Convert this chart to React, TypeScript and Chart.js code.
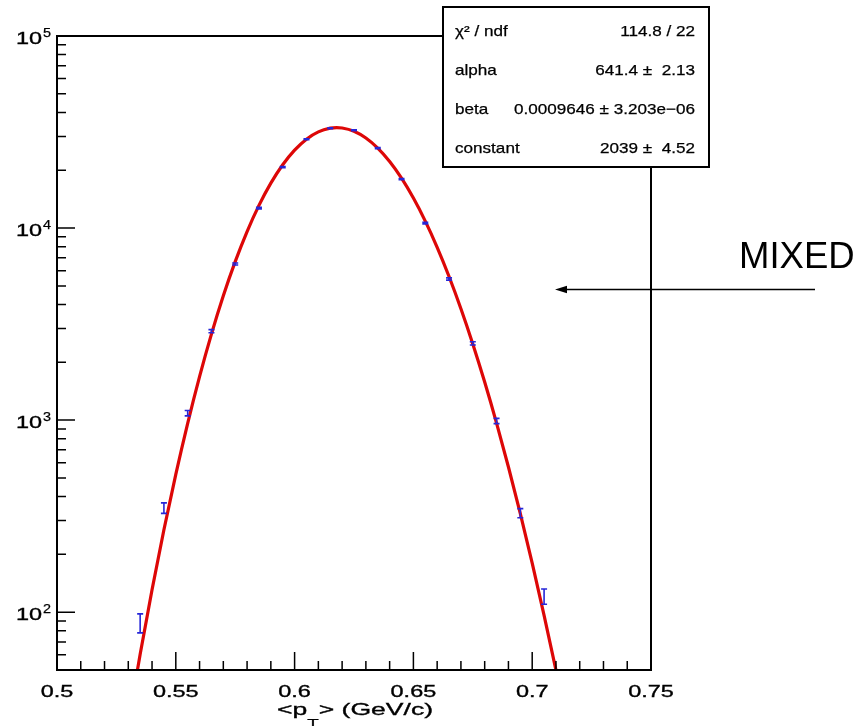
import React, { useEffect, useRef } from 'react';
import { Chart, registerables } from 'chart.js';

Chart.register(...registerables);

// ---- data ----
const binCenters = [0.535, 0.545, 0.555, 0.565, 0.575, 0.585, 0.595, 0.605, 0.615, 0.625, 0.635, 0.645, 0.655, 0.665, 0.675, 0.685, 0.695, 0.705];
const counts = [88, 349, 1087, 2904, 6500, 12700, 20750, 29000, 33100, 32300, 26060, 17990, 10620, 5430, 2510, 990, 328, 121];
const countErrors = [10, 22, 35, 55, 80, 113, 144, 170, 182, 180, 161, 134, 103, 74, 50, 31, 18, 11];

const fitX = [0.53, 0.535, 0.54, 0.545, 0.55, 0.555, 0.56, 0.565, 0.57, 0.575, 0.58, 0.585, 0.59, 0.595, 0.6, 0.605, 0.61, 0.615, 0.6177, 0.62, 0.625, 0.63, 0.635, 0.64, 0.645, 0.65, 0.655, 0.66, 0.665, 0.67, 0.675, 0.68, 0.685, 0.69, 0.695, 0.7, 0.705, 0.71, 0.715];
const fitY = [26.3, 60.4, 130.9, 268.6, 522, 963, 1686, 2805, 4439, 6683, 9592, 13122, 17135, 21370, 25468, 29035, 31684, 33117, 33324, 33180, 31895, 29423, 26067, 22194, 18178, 14322, 10867, 7942, 5596, 3802, 2493, 1578, 965, 570, 326, 180, 96.3, 49.9, 25.0];

const xMajorTicks = [0.5, 0.55, 0.6, 0.65, 0.7, 0.75];
const xTickLabels = ['0.5', '0.55', '0.6', '0.65', '0.7', '0.75'];
const yMajorTicks = [100, 1000, 10000, 100000];
const yTickBase = '10';
const yTickExponents = ['2', '3', '4', '5'];
const xTitleParts = ['<p', 'T', '> (GeV/c)'];
const statLabels = ['\u03C7\u00B2 / ndf', 'alpha', 'beta', 'constant'];
const statValues = ['114.8 / 22', '641.4 \u00B1  2.13', '0.0009646 \u00B1 3.203e\u221206', '2039 \u00B1  4.52'];
const annotationText = 'MIXED';

// ---- style ----
const FONT = '"Liberation Sans", Arial, Helvetica, sans-serif';
const RED = '#dd0707';
const BLUE = '#2626d8';

function stretchText(ctx: CanvasRenderingContext2D, text: string, x: number, y: number, align: string, font: string, sx: number, bold = 0.35) {
  ctx.save();
  ctx.font = font;
  const w = ctx.measureText(text).width * sx;
  const left = align === 'left' ? x : align === 'right' ? x - w : x - w / 2;
  ctx.translate(left, y);
  ctx.scale(sx, 1);
  ctx.textAlign = 'left';
  ctx.textBaseline = 'alphabetic';
  ctx.fillStyle = '#000';
  ctx.fillText(text, 0, 0);
  if (bold > 0) {
    ctx.strokeStyle = '#000';
    ctx.lineWidth = bold;
    ctx.strokeText(text, 0, 0);
  }
  ctx.restore();
  return w;
}

const rootPlugin = {
  id: 'rootStyle',
  afterDatasetsDraw(chart: any) {
    const { ctx, chartArea: a } = chart;
    const xs = chart.scales.x;
    const ys = chart.scales.y;
    ctx.save();
    // error bars
    ctx.strokeStyle = BLUE;
    ctx.lineWidth = 1.6;
    binCenters.forEach((c, i) => {
      const px = xs.getPixelForValue(c);
      const top = ys.getPixelForValue(counts[i] + countErrors[i]);
      const bot = ys.getPixelForValue(counts[i] - countErrors[i]);
      ctx.beginPath();
      ctx.moveTo(px, top);
      ctx.lineTo(px, bot);
      ctx.moveTo(px - 3, top);
      ctx.lineTo(px + 3, top);
      ctx.moveTo(px - 3, bot);
      ctx.lineTo(px + 3, bot);
      ctx.stroke();
    });
    // frame
    ctx.strokeStyle = '#000';
    ctx.lineWidth = 2;
    ctx.strokeRect(a.left, a.top, a.right - a.left, a.bottom - a.top);
    // x ticks (inside, from the bottom axis)
    ctx.lineWidth = 1.5;
    ctx.beginPath();
    for (let i = 0; i <= 25; i++) {
      const v = 0.5 + i * 0.01;
      const px = xs.getPixelForValue(v);
      const len = i % 5 === 0 ? 18 : 9;
      ctx.moveTo(px, a.bottom);
      ctx.lineTo(px, a.bottom - len);
    }
    // y ticks (inside, from the left axis)
    [10, 100, 1000, 10000].forEach((dec) => {
      for (let k = 1; k <= 10; k++) {
        const v = k * dec;
        if (v <= ys.min || v > ys.max) continue;
        const py = ys.getPixelForValue(v);
        const len = k === 1 || k === 10 ? 18 : 9;
        ctx.moveTo(a.left, py);
        ctx.lineTo(a.left + len, py);
      }
    });
    ctx.stroke();
    ctx.restore();
  },
  afterDraw(chart: any) {
    const { ctx, chartArea: a } = chart;
    const xs = chart.scales.x;
    const ys = chart.scales.y;
    ctx.save();
    // x tick labels
    xMajorTicks.forEach((v, i) => {
      stretchText(ctx, xTickLabels[i], xs.getPixelForValue(v), a.bottom + 27, 'center', `17px ${FONT}`, 1.38);
    });
    // y tick labels
    yMajorTicks.forEach((v, i) => {
      const py = ys.getPixelForValue(v);
      stretchText(ctx, yTickBase, 42, py + 8, 'right', `17px ${FONT}`, 1.38);
      stretchText(ctx, yTickExponents[i], 43, py + 1, 'left', `12px ${FONT}`, 1.2, 0.25);
    });
    // x axis title with subscript
    ctx.font = `17px ${FONT}`;
    const w1 = ctx.measureText(xTitleParts[0]).width;
    const w3 = ctx.measureText(xTitleParts[2]).width;
    ctx.font = `12px ${FONT}`;
    const w2 = ctx.measureText(xTitleParts[1]).width;
    const sx = 156 / (w1 + w2 + w3);
    let tx = 277;
    tx += stretchText(ctx, xTitleParts[0], tx, 715, 'left', `17px ${FONT}`, sx);
    tx += stretchText(ctx, xTitleParts[1], tx, 728, 'left', `12px ${FONT}`, sx, 0.25);
    stretchText(ctx, xTitleParts[2], tx, 715, 'left', `17px ${FONT}`, sx);

    // stats box
    ctx.fillStyle = '#fff';
    ctx.fillRect(443, 7, 266, 160);
    ctx.strokeStyle = '#000';
    ctx.lineWidth = 2;
    ctx.strokeRect(443, 7, 266, 160);
    const baselines = [36, 74.5, 113.5, 152.5];
    statLabels.forEach((lab, i) => {
      stretchText(ctx, lab, 455, baselines[i], 'left', `15px ${FONT}`, 1.14, 0.25);
      stretchText(ctx, statValues[i], 695, baselines[i], 'right', `15px ${FONT}`, 1.14, 0.25);
    });

    // annotation
    ctx.fillStyle = '#000';
    ctx.font = `36.5px ${FONT}`;
    ctx.textAlign = 'left';
    ctx.textBaseline = 'alphabetic';
    ctx.fillText(annotationText, 739, 268);
    ctx.strokeStyle = '#000';
    ctx.lineWidth = 1.5;
    ctx.beginPath();
    ctx.moveTo(815, 289.5);
    ctx.lineTo(565, 289.5);
    ctx.stroke();
    ctx.beginPath();
    ctx.moveTo(555, 289.5);
    ctx.lineTo(567, 285.7);
    ctx.lineTo(567, 293.3);
    ctx.closePath();
    ctx.fill();
    ctx.restore();
  },
};

export default function App() {
  const ref = useRef<HTMLCanvasElement | null>(null);
  useEffect(() => {
    if (!ref.current) return;
    const chart = new Chart(ref.current, {
      type: 'scatter',
      data: {
        datasets: [
          {
            label: 'fit',
            data: fitX.map((x, i) => ({ x, y: fitY[i] })),
            showLine: true,
            borderColor: RED,
            borderWidth: 3.2,
            pointRadius: 0,
            cubicInterpolationMode: 'monotone',
            clip: 0,
          } as any,
          {
            label: 'data',
            data: binCenters.map((x, i) => ({ x, y: counts[i] })),
            showLine: false,
            pointRadius: 0,
          },
        ],
      },
      options: {
        responsive: false,
        animation: false,
        devicePixelRatio: 1,
        layout: { padding: { left: 57, right: 205, top: 36, bottom: 56 } },
        scales: {
          x: {
            type: 'linear',
            min: 0.5,
            max: 0.75,
            grid: { display: false },
            border: { display: false },
            ticks: { display: false },
            afterFit: (s: any) => { s.height = 0; },
          },
          y: {
            type: 'logarithmic',
            min: 50,
            max: 100000,
            grid: { display: false },
            border: { display: false },
            ticks: { display: false },
            afterFit: (s: any) => { s.width = 0; },
          },
        },
        plugins: { legend: { display: false }, tooltip: { enabled: false } },
      } as any,
      plugins: [rootPlugin],
    });
    return () => chart.destroy();
  }, []);
  return (
    <div style={{ position: 'fixed', left: 0, top: 0, width: 856, height: 726, background: '#fff' }}>
      <canvas ref={ref} width={856} height={726} style={{ display: 'block' }} />
    </div>
  );
}
